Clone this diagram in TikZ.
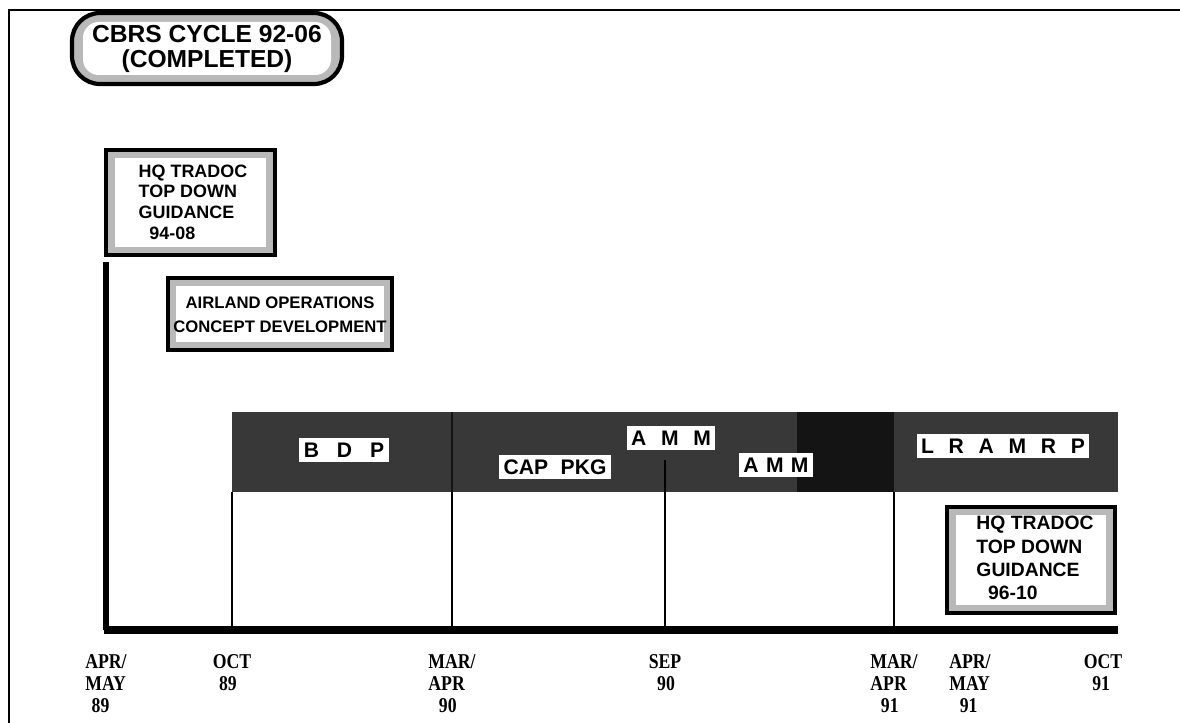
\documentclass[tikz,border=0pt]{standalone}
\usepackage{fontspec}
\setmainfont{Liberation Serif}
\setsansfont{Liberation Sans}
\newfontfamily\tickfont{Liberation Serif}[FakeStretch=0.84]
\tikzset{
  rim/.style={draw=black,line width=1.8pt,fill=gray!55},
  boxtext/.style={font=\sffamily\bfseries\fontsize{10.2}{11.8}\selectfont,align=left,inner sep=0pt},
  tag/.style={fill=white,font=\sffamily\bfseries\fontsize{12}{14}\selectfont,inner sep=2.5pt},
  ticklabel/.style={font=\tickfont\bfseries\fontsize{12}{12.5}\selectfont,align=left,anchor=north,inner sep=0pt},
  marker/.style={line width=1.3pt}
}
\begin{document}
\begin{tikzpicture}[x=0.02cm,y=-0.02cm]
\useasboundingbox (0,0) rectangle (1180,723);
% frame
\draw[line width=1.2pt] (1180,10) -- (9,10) -- (9,723);
% title
\draw[rim,line width=2.4pt,rounded corners=16] (72,13) rectangle (342,84);
\fill[white,rounded corners=9] (83,22) rectangle (331,75);
\node[font=\sffamily\bfseries\fontsize{14}{13.8}\selectfont,align=center,inner sep=0pt] (title) at (207,49) {CBRS CYCLE 92-06\\(COMPLETED)};
% time axis
\coordinate (t0) at (106,630);
\coordinate (t1) at (232,630);
\coordinate (t2) at (452,630);
\coordinate (t3) at (665,630);
\coordinate (t4) at (894,630);
\coordinate (t5) at (970,630);
\coordinate (t6) at (1118,630);
\coordinate (top) at (106,262);
\draw[line width=3.8pt] (top) -- (t0);
\draw[line width=4.2pt] ([xshift=-1.1pt]t0) -- (t6);
% dark band
\fill[black!78] (232,412) rectangle (1118,492);
\fill[black!92] (797,412) rectangle (894,492);
% vertical lines
\draw[marker] (232,492) -- (t1);
\draw[marker,black!92] (452,412) -- (452,492);
\draw[marker] (452,492) -- (t2);
\draw[marker] (665,460) -- (t3);
\draw[marker] (894,492) -- (t4);
% labels in the band
\node[tag] (bdp) at (344,450) {B\hspace{0.85em}D\hspace{0.85em}P};
\node[tag] (cap) at (555,467) {CAP\hspace{0.6em}PKG};
\node[tag] (amma) at (671,438) {A\hspace{0.7em}M\hspace{0.7em}M};
\node[tag] (ammb) at (776,465) {A\hspace{0.35em}M\hspace{0.35em}M};
\node[tag] (lramrp) at (1003,446) {L\hspace{0.7em}R\hspace{0.7em}A\hspace{0.7em}M\hspace{0.7em}R\hspace{0.7em}P};
% guidance boxes
\draw[rim] (106,150) rectangle (275,255);
\fill[white] (115,158) rectangle (266,247);
\node[boxtext] (hq1) at (193,202) {HQ TRADOC\\TOP DOWN\\GUIDANCE\\\hspace{0.6em}94-08};
\draw[rim] (168,278) rectangle (392,350);
\fill[white] (176,286) rectangle (384,342);
\node[boxtext,align=center,font=\sffamily\bfseries\fontsize{9.5}{13.5}\selectfont] (airland) at (280,315) {AIRLAND OPERATIONS\\CONCEPT DEVELOPMENT};
\draw[rim] (947,507) rectangle (1115,613);
\fill[white] (956,515) rectangle (1106,605);
\node[boxtext,font=\sffamily\bfseries\fontsize{11}{13.2}\selectfont] (hq2) at (1035,558) {HQ TRADOC\\TOP DOWN\\GUIDANCE\\\hspace{0.6em}96-10};
% dates
\node[ticklabel] (d0) at ([yshift=-14pt]t0) {APR/\\MAY\\\hspace{0.3em}89};
\node[ticklabel] (d1) at ([yshift=-14pt]t1) {OCT\\\hspace{0.3em}89};
\node[ticklabel] (d2) at ([yshift=-14pt]t2) {MAR/\\APR\\\hspace{0.5em}90};
\node[ticklabel] (d3) at ([yshift=-14pt]t3) {SEP\\\hspace{0.4em}90};
\node[ticklabel] (d4) at ([yshift=-14pt]t4) {MAR/\\APR\\\hspace{0.5em}91};
\node[ticklabel] (d5) at ([yshift=-14pt]t5) {APR/\\MAY\\\hspace{0.5em}91};
\node[ticklabel] (d6) at ([yshift=-14pt]1103,630) {OCT\\\hspace{0.4em}91};
\end{tikzpicture}
\end{document}
